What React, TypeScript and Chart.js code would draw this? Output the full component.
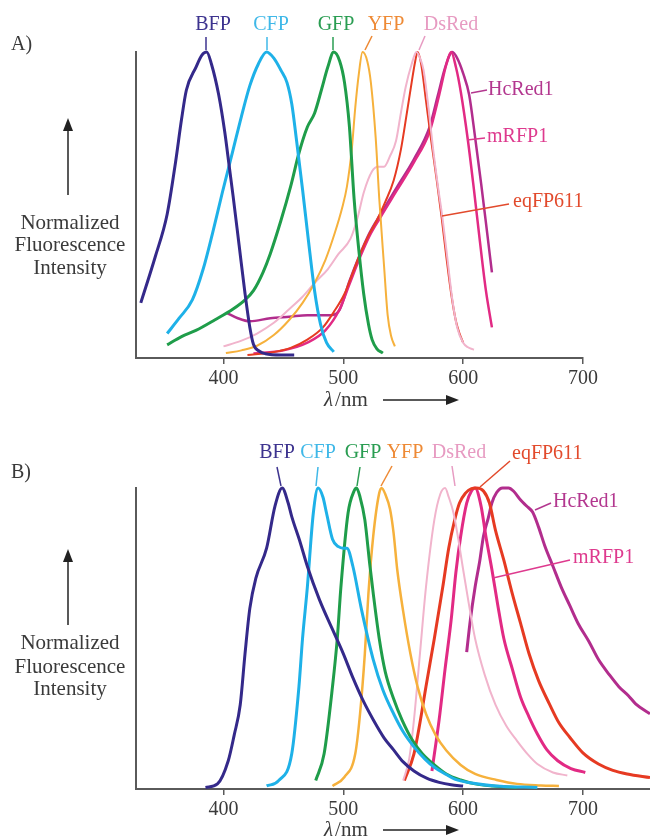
import React, { useEffect, useRef } from 'react';
import { Chart, registerables } from 'chart.js';

Chart.register(...registerables);

type Pt = [number, number];

// ---------- Tick values ----------
const TICK_VALUES = [400, 500, 600, 700];

// ---------- A) excitation spectra (wavelength nm, normalized intensity) ----------
const aBFP: Pt[] = [[331,0.18],[343,0.33],[353,0.47],[360,0.64],[365,0.78],[369,0.875],[377,0.95],[382,0.99],[386,1.0],[390,0.96],[396,0.86],[401,0.74],[405,0.62],[408,0.53],[413,0.37],[418,0.21],[422,0.1],[425,0.045],[430,0.022],[435,0.014],[448,0.01],[459,0.01]];
const aCFP: Pt[] = [[353,0.08],[363,0.13],[374,0.19],[383,0.29],[391,0.41],[399,0.54],[408,0.68],[415,0.79],[422,0.89],[429,0.96],[436,1.0],[442,0.98],[448,0.94],[453,0.9],[457,0.83],[461,0.71],[466,0.55],[471,0.38],[476,0.22],[481,0.11],[486,0.05],[492,0.02]];
const aGFP: Pt[] = [[353,0.043],[365,0.07],[377,0.09],[393,0.125],[408,0.16],[418,0.19],[425,0.22],[433,0.28],[439,0.34],[448,0.45],[456,0.56],[463,0.67],[470,0.755],[476,0.8],[482,0.88],[487,0.95],[492,1.0],[497,0.97],[501,0.9],[505,0.76],[509,0.52],[513,0.35],[517,0.21],[521,0.11],[524,0.06],[528,0.03],[533,0.016]];
const aYFP: Pt[] = [[402,0.016],[415,0.025],[428,0.04],[442,0.075],[455,0.125],[466,0.18],[476,0.245],[485,0.32],[493,0.41],[499,0.49],[503,0.56],[507,0.68],[510,0.82],[513,0.93],[516,1.0],[520,0.97],[523,0.9],[527,0.72],[530,0.52],[534,0.3],[537,0.14],[540,0.07],[543,0.038]];
const aDsRed: Pt[] = [[400,0.038],[414,0.055],[428,0.08],[442,0.115],[455,0.16],[466,0.2],[476,0.245],[487,0.29],[496,0.34],[506,0.39],[512,0.46],[517,0.54],[524,0.61],[529,0.625],[534,0.625],[539,0.66],[544,0.71],[548,0.8],[552,0.885],[557,0.96],[561,1.0],[564,0.98],[567,0.94],[571,0.82],[575,0.68],[579,0.56],[583,0.45],[587,0.32],[591,0.19],[595,0.1],[600,0.05],[604,0.035],[609,0.027]];
const aEqFP611: Pt[] = [[420,0.01],[440,0.018],[456,0.033],[470,0.06],[483,0.1],[492,0.15],[501,0.21],[508,0.28],[514,0.34],[521,0.4],[528,0.45],[535,0.51],[542,0.58],[548,0.68],[553,0.8],[557,0.9],[560,0.97],[562,1.0],[565,0.96],[569,0.84],[573,0.72],[578,0.58],[582,0.46],[586,0.33],[590,0.21],[594,0.12],[597,0.08],[600,0.05]];
const aMRFP1: Pt[] = [[425,0.015],[450,0.025],[470,0.05],[485,0.09],[497,0.16],[505,0.24],[514,0.33],[522,0.4],[531,0.46],[545,0.55],[559,0.64],[572,0.74],[580,0.86],[586,0.96],[590,1.0],[594,0.95],[598,0.87],[604,0.71],[609,0.55],[614,0.38],[619,0.22],[624,0.1]];
const aHcRed1: Pt[] = [[403,0.147],[412,0.13],[422,0.12],[439,0.13],[455,0.135],[470,0.14],[490,0.14],[497,0.158],[505,0.25],[514,0.34],[522,0.41],[531,0.47],[545,0.56],[559,0.65],[572,0.755],[579,0.86],[585,0.95],[591,1.0],[595,0.98],[600,0.93],[605,0.86],[610,0.72],[615,0.57],[620,0.41],[624,0.28]];

// ---------- B) emission spectra ----------
const bBFP: Pt[] = [[385,0.005],[395,0.017],[404,0.094],[409,0.18],[414,0.28],[418,0.45],[422,0.6],[427,0.7],[436,0.8],[443,0.94],[449,1.0],[454,0.95],[457,0.905],[464,0.82],[470,0.74],[480,0.63],[491,0.53],[500,0.45],[508,0.37],[517,0.29],[525,0.23],[534,0.17],[542,0.13],[550,0.09],[559,0.06],[570,0.035],[580,0.022],[590,0.014],[600,0.01]];
const bCFP: Pt[] = [[436,0.01],[446,0.028],[457,0.117],[463,0.34],[466,0.5],[470,0.67],[475,0.917],[479,1.0],[483,0.97],[486,0.917],[491,0.83],[496,0.805],[500,0.8],[503,0.8],[508,0.74],[515,0.6],[525,0.43],[533,0.33],[542,0.25],[550,0.19],[559,0.14],[568,0.1],[576,0.072],[586,0.048],[593,0.033],[610,0.018],[627,0.01],[662,0.005]];
const bGFP: Pt[] = [[477,0.028],[484,0.117],[491,0.34],[495,0.5],[498,0.67],[504,0.917],[509,0.99],[511,1.0],[514,0.97],[518,0.894],[522,0.75],[525,0.65],[530,0.5],[535,0.39],[542,0.3],[549,0.23],[558,0.16],[566,0.117],[576,0.08],[586,0.05],[598,0.03],[610,0.017],[625,0.01],[645,0.005]];
const bYFP: Pt[] = [[491,0.01],[501,0.04],[510,0.117],[514,0.25],[518,0.45],[521,0.65],[525,0.84],[530,0.983],[532,1.0],[535,0.98],[539,0.93],[542,0.85],[545,0.73],[550,0.59],[556,0.45],[562,0.34],[569,0.25],[577,0.18],[586,0.128],[598,0.08],[610,0.05],[628,0.03],[645,0.017],[665,0.012],[680,0.01]];
const bDsRed: Pt[] = [[550,0.028],[555,0.1],[559,0.23],[564,0.45],[569,0.67],[576,0.894],[581,0.98],[585,1.0],[588,0.97],[592,0.917],[596,0.83],[600,0.73],[605,0.61],[610,0.5],[618,0.38],[627,0.28],[636,0.21],[645,0.16],[654,0.115],[662,0.083],[675,0.055],[687,0.045]];
const bEqFP611: Pt[] = [[551,0.028],[559,0.117],[564,0.22],[569,0.34],[576,0.5],[583,0.67],[588,0.8],[593,0.894],[597,0.95],[602,0.983],[607,0.998],[611,1.0],[617,0.99],[622,0.95],[627,0.86],[634,0.76],[641,0.65],[648,0.55],[655,0.45],[663,0.36],[672,0.283],[680,0.22],[689,0.172],[700,0.12],[713,0.083],[725,0.062],[737,0.05],[756,0.038]];
const bMRFP1: Pt[] = [[574,0.06],[580,0.23],[585,0.4],[590,0.56],[594,0.72],[598,0.84],[603,0.95],[607,0.99],[610,1.0],[615,0.94],[619,0.84],[624,0.73],[629,0.61],[634,0.5],[641,0.4],[648,0.305],[655,0.24],[662,0.183],[670,0.13],[679,0.094],[690,0.068],[702,0.055]];
const bHcRed1: Pt[] = [[603,0.455],[606,0.56],[610,0.67],[614,0.76],[617,0.84],[621,0.9],[624,0.95],[628,0.985],[633,1.0],[638,1.0],[642,0.99],[648,0.96],[653,0.94],[658,0.92],[663,0.87],[668,0.81],[675,0.74],[682,0.67],[689,0.61],[696,0.55],[705,0.49],[713,0.43],[722,0.38],[730,0.34],[738,0.31],[744,0.283],[756,0.25]];

// ---------- styling ----------
const SERIF = '"Liberation Serif", "Times New Roman", serif';
const INK = '#3a3a3a';
const AXIS = '#5a5a5a';
const COL = {
  BFP: '#34298a', CFP: '#1eb1e8', GFP: '#1f9d4a', YFP: '#f6b13c', DsRed: '#f1b4cc',
  eq: '#e63a22', mRFP1: '#e22a84', HcRed1: '#b22d8d',
};
const TXT = {
  BFP: '#3d338f', CFP: '#3fb8e8', GFP: '#2a9d52', YFP: '#ee8a35', DsRed: '#e79bc2',
  eq: '#e24a2c', mRFP1: '#de3a8e', HcRed1: '#b3378f',
};

type Series = { data: Pt[]; color: string; width: number };
type Label = { text: string; x: number; y: number; color: string; align: CanvasTextAlign; line: [number, number, number, number] };

type PanelSpec = {
  letter: string; letterY: number;
  xMax: number; padTop: number; padRight: number; xHeight: number;
  series: Series[]; labels: Label[];
  yArrowTip: number; yArrowBottom: number; yLabelY: number[];
  lambdaY: number;
};

const PANEL_A: PanelSpec = {
  letter: 'A)', letterY: 45, xMax: 700, padTop: 52, padRight: 67, xHeight: 60,
  series: [
    { data: aBFP, color: COL.BFP, width: 3 },
    { data: aCFP, color: COL.CFP, width: 3 },
    { data: aGFP, color: COL.GFP, width: 3 },
    { data: aYFP, color: COL.YFP, width: 2 },
    { data: aDsRed, color: COL.DsRed, width: 2 },
    { data: aEqFP611, color: COL.eq, width: 2 },
    { data: aMRFP1, color: COL.mRFP1, width: 2.5 },
    { data: aHcRed1, color: COL.HcRed1, width: 2.5 },
  ],
  labels: [
    { text: 'BFP', x: 213, y: 25, color: TXT.BFP, align: 'center', line: [206, 37, 206, 50] },
    { text: 'CFP', x: 271, y: 25, color: TXT.CFP, align: 'center', line: [267, 37, 267, 50] },
    { text: 'GFP', x: 336, y: 25, color: TXT.GFP, align: 'center', line: [333, 37, 333, 50] },
    { text: 'YFP', x: 386, y: 25, color: TXT.YFP, align: 'center', line: [372, 36, 365, 50] },
    { text: 'DsRed', x: 451, y: 25, color: TXT.DsRed, align: 'center', line: [425, 36, 419, 50] },
    { text: 'HcRed1', x: 488, y: 90, color: TXT.HcRed1, align: 'left', line: [471, 93, 487, 90] },
    { text: 'mRFP1', x: 487, y: 137, color: TXT.mRFP1, align: 'left', line: [467, 140, 485, 138] },
    { text: 'eqFP611', x: 513, y: 202, color: TXT.eq, align: 'left', line: [442, 216, 509, 204] },
  ],
  yArrowTip: 118, yArrowBottom: 195, yLabelY: [223, 245, 268], lambdaY: 400,
};

const PANEL_B: PanelSpec = {
  letter: 'B)', letterY: 55, xMax: 756, padTop: 70, padRight: 0, xHeight: 47,
  series: [
    { data: bBFP, color: COL.BFP, width: 3 },
    { data: bCFP, color: COL.CFP, width: 3 },
    { data: bGFP, color: COL.GFP, width: 3 },
    { data: bYFP, color: COL.YFP, width: 2.5 },
    { data: bDsRed, color: COL.DsRed, width: 2 },
    { data: bEqFP611, color: COL.eq, width: 3 },
    { data: bMRFP1, color: COL.mRFP1, width: 3 },
    { data: bHcRed1, color: COL.HcRed1, width: 3 },
  ],
  labels: [
    { text: 'BFP', x: 277, y: 35, color: TXT.BFP, align: 'center', line: [277, 49, 281, 68] },
    { text: 'CFP', x: 318, y: 35, color: TXT.CFP, align: 'center', line: [318, 49, 316, 68] },
    { text: 'GFP', x: 363, y: 35, color: TXT.GFP, align: 'center', line: [360, 49, 357, 68] },
    { text: 'YFP', x: 405, y: 35, color: TXT.YFP, align: 'center', line: [392, 48, 381, 68] },
    { text: 'DsRed', x: 459, y: 35, color: TXT.DsRed, align: 'center', line: [452, 48, 455, 68] },
    { text: 'eqFP611', x: 512, y: 36, color: TXT.eq, align: 'left', line: [480, 69, 510, 43] },
    { text: 'HcRed1', x: 553, y: 84, color: TXT.HcRed1, align: 'left', line: [535, 92, 551, 85] },
    { text: 'mRFP1', x: 573, y: 140, color: TXT.mRFP1, align: 'left', line: [493, 160, 570, 142] },
  ],
  yArrowTip: 131, yArrowBottom: 207, yLabelY: [225, 249, 271], lambdaY: 412,
};

function annotations(spec: PanelSpec) {
  return {
    id: 'annotations',
    afterDraw(chart: any) {
      const ctx: CanvasRenderingContext2D = chart.ctx;
      ctx.save();
      // panel letter
      ctx.fillStyle = INK;
      ctx.font = `20px ${SERIF}`;
      ctx.textAlign = 'left';
      ctx.textBaseline = 'middle';
      ctx.fillText(spec.letter, 11, spec.letterY);

      // y-axis title
      ctx.font = `21px ${SERIF}`;
      ctx.textAlign = 'center';
      ['Normalized', 'Fluorescence', 'Intensity'].forEach((t, i) => ctx.fillText(t, 70, spec.yLabelY[i]));

      // up arrow
      ctx.strokeStyle = '#222';
      ctx.fillStyle = '#222';
      ctx.lineWidth = 1.5;
      ctx.beginPath();
      ctx.moveTo(68, spec.yArrowBottom);
      ctx.lineTo(68, spec.yArrowTip + 8);
      ctx.stroke();
      ctx.beginPath();
      ctx.moveTo(68, spec.yArrowTip);
      ctx.lineTo(63, spec.yArrowTip + 13);
      ctx.lineTo(73, spec.yArrowTip + 13);
      ctx.closePath();
      ctx.fill();

      // x-axis title: λ/nm with arrow
      ctx.fillStyle = INK;
      ctx.textAlign = 'left';
      ctx.font = `italic 21px ${SERIF}`;
      const lx = 324;
      ctx.fillText('λ', lx, spec.lambdaY);
      const lw = ctx.measureText('λ').width;
      ctx.font = `21px ${SERIF}`;
      ctx.fillText('/nm', lx + lw + 2, spec.lambdaY);
      ctx.strokeStyle = '#222';
      ctx.fillStyle = '#222';
      ctx.lineWidth = 1.5;
      ctx.beginPath();
      ctx.moveTo(383, spec.lambdaY);
      ctx.lineTo(450, spec.lambdaY);
      ctx.stroke();
      ctx.beginPath();
      ctx.moveTo(459, spec.lambdaY);
      ctx.lineTo(446, spec.lambdaY - 5);
      ctx.lineTo(446, spec.lambdaY + 5);
      ctx.closePath();
      ctx.fill();

      // curve labels with leader lines
      ctx.font = `20px ${SERIF}`;
      spec.labels.forEach((l) => {
        ctx.strokeStyle = l.color;
        ctx.lineWidth = 1.5;
        ctx.beginPath();
        ctx.moveTo(l.line[0], l.line[1]);
        ctx.lineTo(l.line[2], l.line[3]);
        ctx.stroke();
        ctx.fillStyle = l.color;
        ctx.textAlign = l.align;
        ctx.textBaseline = 'middle';
        ctx.fillText(l.text, l.x, l.y);
      });
      ctx.restore();
    },
  };
}

function buildChart(canvas: HTMLCanvasElement, spec: PanelSpec) {
  return new Chart(canvas, {
    type: 'line',
    data: {
      datasets: spec.series.map((s) => ({
        data: s.data.map(([x, y]) => ({ x, y })),
        borderColor: s.color,
        borderWidth: s.width,
        pointRadius: 0,
        fill: false,
        cubicInterpolationMode: 'monotone' as const,
        clip: false as any,
      })),
    },
    options: {
      animation: false,
      responsive: false,
      maintainAspectRatio: false,
      events: [],
      layout: { padding: { left: 136, right: spec.padRight, top: spec.padTop, bottom: 0 } },
      plugins: { legend: { display: false }, tooltip: { enabled: false }, title: { display: false } },
      scales: {
        x: {
          type: 'linear',
          min: 327,
          max: spec.xMax,
          afterBuildTicks: (s: any) => { s.ticks = TICK_VALUES.map((v) => ({ value: v })); },
          afterFit: (s: any) => { s.height = spec.xHeight; },
          grid: { display: true, drawOnChartArea: false, drawTicks: true, tickLength: 6, color: AXIS, lineWidth: 1.5 },
          border: { display: true, color: AXIS, width: 2 },
          ticks: { font: { family: SERIF, size: 20 }, color: INK, padding: 3, maxRotation: 0, autoSkip: false, callback: (v: any) => String(v) },
        },
        y: {
          type: 'linear',
          min: 0,
          max: 1,
          afterFit: (s: any) => { s.width = 0; },
          grid: { display: false },
          ticks: { display: false },
          border: { display: true, color: AXIS, width: 2 },
        },
      },
    },
    plugins: [annotations(spec)],
  } as any);
}

export default function App() {
  const refA = useRef<HTMLCanvasElement | null>(null);
  const refB = useRef<HTMLCanvasElement | null>(null);

  useEffect(() => {
    const ca = buildChart(refA.current!, PANEL_A);
    const cb = buildChart(refB.current!, PANEL_B);
    return () => { ca.destroy(); cb.destroy(); };
  }, []);

  return (
    <div style={{ position: 'absolute', left: 0, top: 0, width: 650, height: 836, background: '#fff' }}>
      <canvas ref={refA} width={650} height={418} style={{ display: 'block', width: 650, height: 418 }} />
      <canvas ref={refB} width={650} height={418} style={{ display: 'block', width: 650, height: 418 }} />
    </div>
  );
}
